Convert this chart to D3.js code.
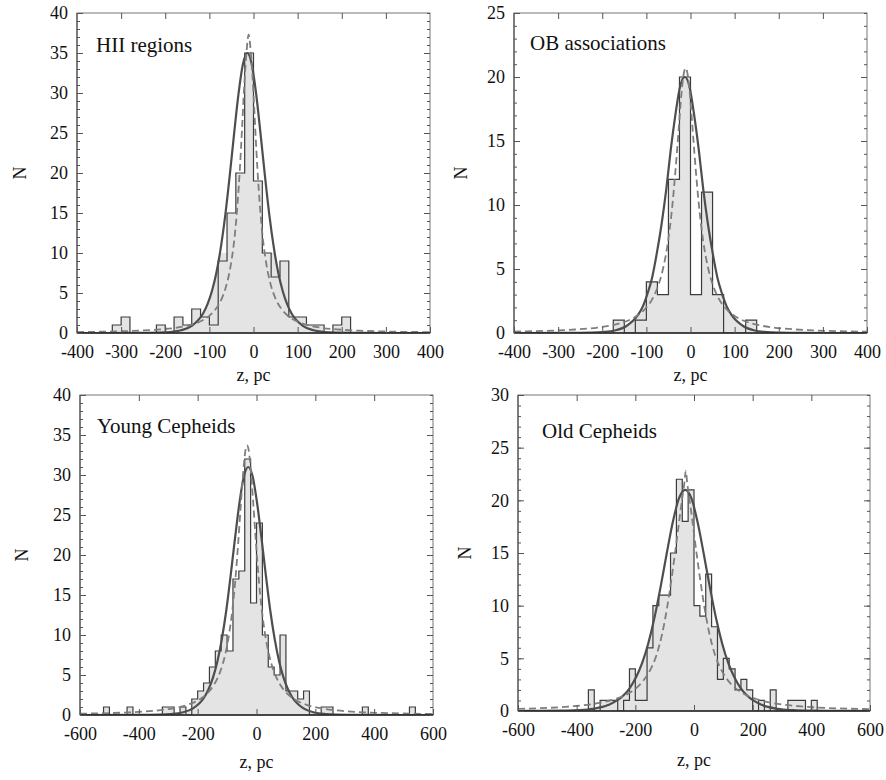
<!DOCTYPE html>
<html><head><meta charset="utf-8">
<script src="https://cdn.jsdelivr.net/npm/d3@7"></script>
<style>
body{margin:0;background:#fff}
svg text{font-family:"Liberation Serif","Times New Roman",serif;fill:#111}
</style>
</head><body>
<svg id="c" width="886" height="780"></svg>
<script>
// ---------------- DATA ----------------
// Histogram counts (contiguous bins, starting edge + width)
const hiiBinStart = -320, hiiBinWidth = 20;
const hiiCounts = [1,2,0,0,0,1,0,2,1,3,2,1,9,15,20,35,19,10,7,9,2,2,1,1,0,1,2];

const obBinStart = -175, obBinWidth = 25;
const obCounts = [1,0,1,4,3,12,20,3,11,3,0,0,1];

const youngBinStart = -520, youngBinWidth = 20;
const youngCounts = [1,0,0,0,1,0,0,0,0,0,1,1,0,1,0,2,3,4,6,8,10,8,17,18,32,14,24,10,6,5,10,3,3,2,3,0,0,1,1,0,0,0,0,0,1,0,0,0,0,0,0,0,1];

const oldBinStart = -360, oldBinWidth = 20;
const oldCounts = [2,0,1,1,1,0,1,4,1,1,6,10,11,11,15,22,18,21,10,9,13,8,3,5,4,2,3,2,0,1,0,2,0,0,1,1,1,0,1];

// Fitted curves: [z, N]
const hiiSolid = [[-400,0],[-264,0.006],[-214,0.047],[-189,0.127],[-164,0.345],[-139,0.93],[-114,2.47],[-104,3.64],[-94,5.29],[-84,7.56],[-74,10.7],[-64,14.7],[-54,19.6],[-44,24.9],[-34,29.9],[-24,33.6],[-14,35],[-4,33.6],[6,29.9],[16,24.9],[26,19.6],[36,14.7],[46,10.7],[56,7.56],[66,5.29],[76,3.64],[86,2.47],[111,0.93],[136,0.345],[161,0.127],[186,0.047],[236,0.006],[400,0]];
const hiiDashed = [[-400,0.12],[-311,0.20],[-261,0.29],[-211,0.45],[-171,0.69],[-141,1.04],[-121,1.43],[-101,2.10],[-86,2.96],[-71,4.42],[-61,6.05],[-51,8.66],[-41,13.0],[-36,16.3],[-31,20.4],[-26,25.5],[-21,30.9],[-16,35.0],[-11,37.3],[-6,35.0],[-1,30.9],[4,25.5],[9,20.4],[14,16.3],[19,13.0],[29,8.66],[39,6.05],[49,4.42],[64,2.96],[79,2.10],[99,1.43],[119,1.04],[149,0.69],[189,0.45],[239,0.29],[289,0.20],[400,0.11]];

const obSolid = [[-400,0],[-278,0.004],[-225,0.027],[-199,0.073],[-172,0.197],[-146,0.53],[-119,1.41],[-108,2.08],[-98,3.02],[-87,4.32],[-77,6.1],[-66,8.4],[-55,11.2],[-45,14.24],[-34,17.1],[-24,19.2],[-13,20],[-2,19.2],[8,17.1],[19,14.24],[29,11.2],[40,8.4],[51,6.1],[61,4.32],[72,3.02],[82,2.08],[93,1.41],[120,0.53],[146,0.197],[173,0.073],[199,0.027],[252,0.004],[400,0]];
const obDashed = [[-400,0.114],[-311,0.19],[-261,0.275],[-211,0.426],[-171,0.66],[-141,0.98],[-121,1.345],[-101,1.95],[-86,2.69],[-71,3.92],[-61,5.21],[-51,7.13],[-41,10.0],[-36,11.9],[-31,14.0],[-26,16.3],[-21,18.5],[-16,20.1],[-11,20.7],[-6,20.1],[-1,18.5],[4,16.3],[9,14.0],[14,11.9],[19,10.0],[29,7.13],[39,5.21],[49,3.92],[64,2.69],[79,1.95],[99,1.345],[119,0.98],[149,0.66],[189,0.426],[239,0.275],[289,0.19],[400,0.103]];

const youngSolid = [[-600,0],[-403,0.006],[-328,0.042],[-291,0.113],[-253,0.306],[-216,0.825],[-178,2.19],[-163,3.22],[-148,4.68],[-133,6.70],[-118,9.46],[-103,13.0],[-88,17.4],[-73,22.1],[-58,26.5],[-43,29.8],[-28,31],[-13,29.8],[2,26.5],[17,22.1],[32,17.4],[47,13.0],[62,9.46],[77,6.70],[92,4.68],[107,3.22],[122,2.19],[160,0.825],[197,0.306],[235,0.113],[272,0.042],[347,0.006],[600,0]];
const youngDashed = [[-600,0.166],[-432,0.334],[-332,0.59],[-282,0.84],[-232,1.30],[-192,1.98],[-162,2.92],[-142,3.94],[-122,5.56],[-107,7.46],[-92,10.37],[-82,13.15],[-72,16.85],[-62,21.6],[-52,27.0],[-47,29.5],[-42,31.7],[-37,33.2],[-32,33.7],[-27,33.2],[-22,31.7],[-17,29.5],[-12,27.0],[-2,21.6],[8,16.85],[18,13.15],[28,10.37],[43,7.46],[58,5.56],[78,3.94],[98,2.92],[128,1.98],[168,1.30],[218,0.84],[268,0.59],[368,0.334],[600,0.134]];

const oldSolid = [[-600,0.002],[-555,0.004],[-450,0.028],[-398,0.076],[-345,0.207],[-293,0.559],[-240,1.485],[-219,2.18],[-198,3.17],[-177,4.54],[-156,6.41],[-135,8.82],[-114,11.76],[-93,14.95],[-72,17.96],[-51,20.2],[-30,21],[-9,20.2],[12,17.96],[33,14.95],[54,11.76],[75,8.82],[96,6.41],[117,4.54],[138,3.17],[159,2.18],[180,1.485],[233,0.559],[285,0.207],[338,0.076],[390,0.028],[495,0.004],[600,0.002]];
const oldDashed = [[-600,0.209],[-428,0.423],[-328,0.74],[-268,1.14],[-218,1.76],[-178,2.70],[-148,3.96],[-128,5.3],[-108,7.4],[-93,9.6],[-78,12.3],[-68,14.3],[-58,16.4],[-48,18.6],[-38,20.6],[-33,21.6],[-28,22.8],[-23,21.6],[-18,20.6],[-8,18.6],[2,16.4],[12,14.3],[22,12.3],[37,9.6],[52,7.4],[72,5.3],[92,3.96],[122,2.70],[162,1.76],[212,1.14],[272,0.74],[372,0.423],[600,0.174]];

// Tick labels
const xTicks400 = [-400,-300,-200,-100,0,100,200,300,400];
const xTicks600 = [-600,-400,-200,0,200,400,600];
const yTicks40 = [0,5,10,15,20,25,30,35,40];
const yTicks25 = [0,5,10,15,20,25];
const yTicks30 = [0,5,10,15,20,25,30];
const titles = ["HII regions","OB associations","Young Cepheids","Old Cepheids"];

// ---------------- LAYOUT ----------------
const panels = [
  {title:titles[0], start:hiiBinStart, width:hiiBinWidth, counts:hiiCounts, solid:hiiSolid, dashed:hiiDashed, xTicks:xTicks400, yTicks:yTicks40, cap:10,
   box:[77,430,13,333], titleAt:[96,52], nX:20, zY:381},
  {title:titles[1], start:obBinStart, width:obBinWidth, counts:obCounts, solid:obSolid, dashed:obDashed, xTicks:xTicks400, yTicks:yTicks25, cap:3,
   box:[514,867,13,333], titleAt:[530,50], nX:461, zY:381},
  {title:titles[2], start:youngBinStart, width:youngBinWidth, counts:youngCounts, solid:youngSolid, dashed:youngDashed, xTicks:xTicks600, yTicks:yTicks40, cap:5,
   box:[80,433,395,715], titleAt:[97,433], nX:22, zY:768},
  {title:titles[3], start:oldBinStart, width:oldBinWidth, counts:oldCounts, solid:oldSolid, dashed:oldDashed, xTicks:xTicks600, yTicks:yTicks30, cap:8,
   box:[518,870,395,711], titleAt:[542,438], nX:465, zY:766}
];

const FILL = "#e4e4e4";
const FONT = "Liberation Serif";
const svg = d3.select("#c");

panels.forEach((p, pi) => {
  const [l, r, t, b] = p.box;
  const x = d3.scaleLinear().domain([p.xTicks[0], p.xTicks[p.xTicks.length-1]]).range([l, r]);
  const yMax = p.yTicks[p.yTicks.length-1];
  const y = d3.scaleLinear().domain([0, yMax]).range([b, t]);
  const g = svg.append("g");

  const clipId = "clip" + pi;
  svg.append("clipPath").attr("id", clipId).append("rect")
    .attr("x", l).attr("y", t).attr("width", r - l).attr("height", b - t);
  const capId = "cap" + pi;
  svg.append("clipPath").attr("id", capId).append("rect")
    .attr("x", l).attr("y", y(p.cap)).attr("width", r - l).attr("height", b - y(p.cap));

  const plot = g.append("g").attr("clip-path", `url(#${clipId})`);

  const pts = p.counts.map((c, i) => [p.start + i * p.width, c]);
  const end = p.start + p.counts.length * p.width;
  pts.push([end, p.counts[p.counts.length-1]]);

  plot.append("path")
    .attr("d", d3.area().x(d => x(d[0])).y0(y(0)).y1(d => y(d[1])).curve(d3.curveStepAfter)(pts))
    .attr("fill", FILL);

  plot.append("path")
    .attr("clip-path", `url(#${capId})`)
    .attr("d", d3.area().x(d => x(d[0])).y0(y(0)).y1(d => y(d[1])).curve(d3.curveMonotoneX)(p.solid))
    .attr("fill", FILL);

  const outline = [[p.start, 0]].concat(pts, [[end, 0]]);
  plot.append("path")
    .attr("d", d3.line().x(d => x(d[0])).y(d => y(d[1])).curve(d3.curveStepAfter)(outline))
    .attr("fill", "none").attr("stroke", "#3c3c3c").attr("stroke-width", 1.2);

  plot.append("path")
    .attr("d", d3.line().x(d => x(d[0])).y(d => y(d[1])).curve(d3.curveMonotoneX)(p.solid))
    .attr("fill", "none").attr("stroke", "#4e4e4e").attr("stroke-width", 2.2);
  plot.append("path")
    .attr("d", d3.line().x(d => x(d[0])).y(d => y(d[1])).curve(d3.curveMonotoneX)(p.dashed))
    .attr("fill", "none").attr("stroke", "#7e7e7e").attr("stroke-width", 1.8)
    .attr("stroke-dasharray", "7,4");

  g.append("rect").attr("x", l).attr("y", t).attr("width", r - l).attr("height", b - t)
    .attr("fill", "none").attr("stroke", "#777").attr("stroke-width", 1);
  g.append("line").attr("x1", l).attr("x2", r).attr("y1", b).attr("y2", b)
    .attr("stroke", "#222").attr("stroke-width", 1.6);
  g.append("line").attr("x1", l).attr("x2", l).attr("y1", t).attr("y2", b)
    .attr("stroke", "#555").attr("stroke-width", 1.2);

  const style = sel => {
    sel.select(".domain").remove();
    sel.attr("font-size", 18).attr("font-family", FONT).attr("color", "#111");
    sel.selectAll("line").attr("stroke", "#555");
    sel.selectAll("text").attr("font-family", FONT).attr("font-size", 18);
  };
  const fmt = d => String(d);

  g.append("g").attr("transform", `translate(0,${b})`)
    .call(d3.axisBottom(x).tickValues(p.xTicks).tickSize(-6).tickPadding(12).tickFormat(fmt)).call(style);
  g.append("g").attr("transform", `translate(0,${t})`)
    .call(d3.axisTop(x).tickValues(p.xTicks.slice(1,-1)).tickSize(-6).tickFormat("")).call(style);
  g.append("g").attr("transform", `translate(${l},0)`)
    .call(d3.axisLeft(y).tickValues(p.yTicks).tickSize(-6).tickPadding(9).tickFormat(fmt)).call(style);
  g.append("g").attr("transform", `translate(${l},0)`)
    .call(d3.axisLeft(y).tickValues(d3.range(0, yMax + 1, 1)).tickSize(-3).tickFormat("")).call(style);
  g.append("g").attr("transform", `translate(${r},0)`)
    .call(d3.axisRight(y).tickValues(p.yTicks.slice(1,-1)).tickSize(-6).tickFormat("")).call(style);
  g.append("g").attr("transform", `translate(${r},0)`)
    .call(d3.axisRight(y).tickValues(d3.range(0, yMax + 1, 1)).tickSize(-3).tickFormat("")).call(style);

  g.append("text").attr("x", p.titleAt[0]).attr("y", p.titleAt[1])
    .attr("font-family", FONT).attr("font-size", 21).text(p.title);
  g.append("text").attr("x", (l + r) / 2).attr("y", p.zY)
    .attr("text-anchor", "middle").attr("font-family", FONT).attr("font-size", 18).text("z, pc");
  g.append("text").attr("transform", `translate(${p.nX},${(t + b) / 2}) rotate(-90)`)
    .attr("text-anchor", "middle").attr("dy", "0.35em").attr("font-family", FONT).attr("font-size", 18).text("N");
});
</script>
</body></html>
